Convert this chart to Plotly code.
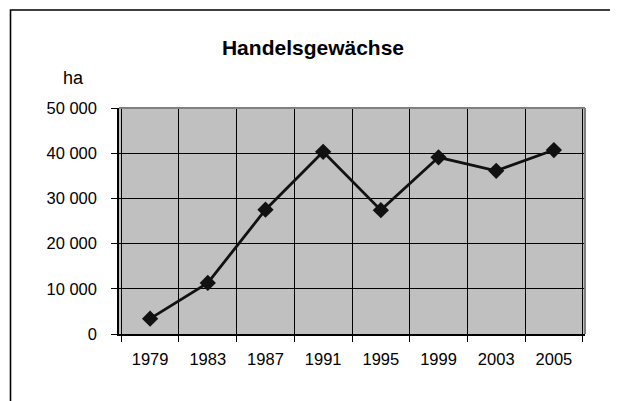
import plotly.graph_objects as go

# Daten
jahre = ["1979", "1983", "1987", "1991", "1995", "1999", "2003", "2005"]
flaeche_ha = [3400, 11300, 27500, 40300, 27400, 39100, 36100, 40700]
y_ticks = [0, 10000, 20000, 30000, 40000, 50000]

FONT = "Liberation Sans, Arial, sans-serif"

# Seite hat 8px Rand im Browser -> Figur entsprechend kleiner
OFF = 8
W, H = 618 - OFF, 401 - OFF
# Plotbereich in Seitenpixeln: links 119, rechts 585, oben 108, unten 334
L, R, T, B = 119 - OFF, 618 - 585, 108 - OFF, 401 - 334
pw = W - L - R
ph = H - T - B


def px_x(x):
    return (x - OFF - L) / pw


def px_y(y):
    return (H - B - (y - OFF)) / ph


fig = go.Figure()

fig.add_trace(
    go.Scatter(
        x=jahre,
        y=flaeche_ha,
        mode="lines+markers",
        line=dict(color="#111111", width=2.8),
        marker=dict(symbol="diamond", size=12.5, color="#111111"),
        showlegend=False,
        cliponaxis=False,
    )
)

fig.update_layout(
    width=W,
    height=H,
    margin=dict(l=L, r=R, t=T, b=B),
    paper_bgcolor="white",
    plot_bgcolor="#c0c0c0",
    separators=", ",
    font=dict(family=FONT, color="black", size=16),
    title=dict(
        text="<b>Handelsgewächse</b>",
        x=px_x(313), xref="paper", xanchor="center",
        y=1 - (48 - OFF) / H, yref="container", yanchor="middle",
        font=dict(family=FONT, size=21, color="black"),
    ),
    annotations=[
        dict(
            text="ha", x=px_x(73), y=px_y(78), xref="paper", yref="paper",
            showarrow=False, xanchor="center", yanchor="middle",
            font=dict(family=FONT, size=18, color="black"),
        )
    ],
    shapes=[
        # äußerer Rahmen
        dict(type="rect", xref="paper", yref="paper",
             x0=px_x(10.5), x1=px_x(614), y0=px_y(410), y1=px_y(10),
             line=dict(color="black", width=1.6), layer="below"),
        # obere und rechte Kante des Plotbereichs (grau)
        dict(type="line", xref="paper", yref="paper", x0=0, x1=1, y0=1, y1=1,
             line=dict(color="#808080", width=2)),
        dict(type="line", xref="paper", yref="paper", x0=1, x1=1, y0=0, y1=1,
             line=dict(color="#808080", width=2)),
    ],
)

fig.update_xaxes(
    type="category",
    tickson="boundaries",
    ticks="outside",
    ticklen=6,
    tickcolor="black",
    showgrid=True,
    gridcolor="black",
    gridwidth=1,
    showline=True,
    linecolor="black",
    linewidth=1.5,
    ticklabelstandoff=9,
    tickfont=dict(family=FONT, size=16.5, color="black"),
)

fig.update_yaxes(
    range=[0, 50000],
    tickvals=y_ticks,
    tickformat=",d",
    ticks="outside",
    ticklen=6,
    tickcolor="black",
    showgrid=True,
    gridcolor="black",
    gridwidth=1,
    zeroline=False,
    showline=True,
    linecolor="black",
    linewidth=1.5,
    ticklabelstandoff=11,
    tickfont=dict(family=FONT, size=16.5, color="black"),
)

fig.write_html("out.html")
